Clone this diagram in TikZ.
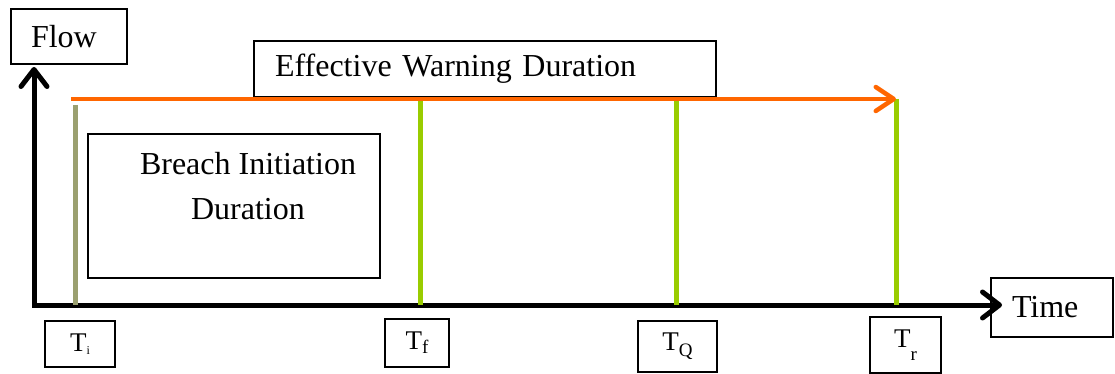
\documentclass[tikz,border=0pt]{standalone}
\usepackage{fontspec}
\setmainfont{Liberation Serif}
\usetikzlibrary{arrows.meta}
\definecolor{warnorange}{RGB}{255,102,0}
\definecolor{phasegreen}{RGB}{153,204,0}
\definecolor{initolive}{RGB}{155,160,112}
\newcommand{\bigtext}{\fontsize{32}{45}\selectfont}
\newcommand{\ttext}{\fontsize{27}{30}\selectfont}
\newcommand{\tsub}[3]{\raisebox{-#1pt}{\fontsize{#2}{#2}\selectfont #3}}
\begin{document}
\begin{tikzpicture}[x=1pt,y=-1pt,
  labelbox/.style={draw=black,line width=1.1pt,fill=white,inner sep=0pt,outer sep=0pt},
  timebox/.style={labelbox,font=\ttext},
  axis/.style={line width=5pt,line join=miter,
    {Straight Barb[length=17pt,width=26pt,line width=5pt,round]}-{Straight Barb[length=17pt,width=26pt,line width=5pt,round]}},
  warnarrow/.style={line width=4.5pt,draw=warnorange,
    -{Straight Barb[length=18pt,width=24pt,line width=4.5pt,round]}},
  marker/.style={line width=5pt,draw=phasegreen}]
\useasboundingbox (0,0) rectangle (1115,374);

% labelled boxes
\node[labelbox,minimum width=116pt,minimum height=55pt,text width=76pt,align=left,font=\bigtext] (flow) at (69,36.5) {Flow};
\node[labelbox,minimum width=462pt,minimum height=56pt,text width=420pt,align=left,font=\bigtext] (ewd) at (485,69) {Effective Warning Duration};
\node[labelbox,minimum width=122pt,minimum height=59pt,text width=80pt,align=left,font=\bigtext] (time) at (1052,307.5) {Time};
\node[labelbox,minimum width=292pt,minimum height=144pt] (breach) at (234,206) {};
\node[font=\bigtext,align=center,anchor=north,inner sep=0pt] (breachtxt) at (248,152) {Breach Initiation\\Duration};

% time markers below the axis
\node[timebox,minimum width=70pt,minimum height=46pt] (ti) at (80,344) {T\tsub{3}{12}{i}};
\node[timebox,minimum width=64pt,minimum height=48pt] (tf) at (417,343) {T\tsub{4}{19}{f}};
\node[timebox,minimum width=79pt,minimum height=51pt] (tq) at (677.5,346.5) {T\tsub{6}{19}{Q}};
\node[timebox,minimum width=71pt,minimum height=56pt] (tr) at (905.5,345) {T\tsub{13}{19}{r}};

% axes
\coordinate (ytip) at (34,67);
\coordinate (xtip) at (1002,305);
\draw[axis] (ytip) |- (xtip);

% vertical phase lines
\coordinate (itop) at (75,105);
\coordinate (ftop) at (420,101);
\coordinate (qtop) at (676,101);
\coordinate (rtop) at (896,99);
\draw[line width=5pt,draw=initolive] (itop) -- (itop |- xtip);
\draw[marker] (ftop) -- (ftop |- xtip);
\draw[marker] (qtop) -- (qtop |- xtip);
\draw[marker] (rtop) -- (rtop |- xtip);

% effective warning duration arrow
\coordinate (wstart) at (71,99);
\draw[warnarrow] (wstart) -- (rtop);
\end{tikzpicture}
\end{document}
